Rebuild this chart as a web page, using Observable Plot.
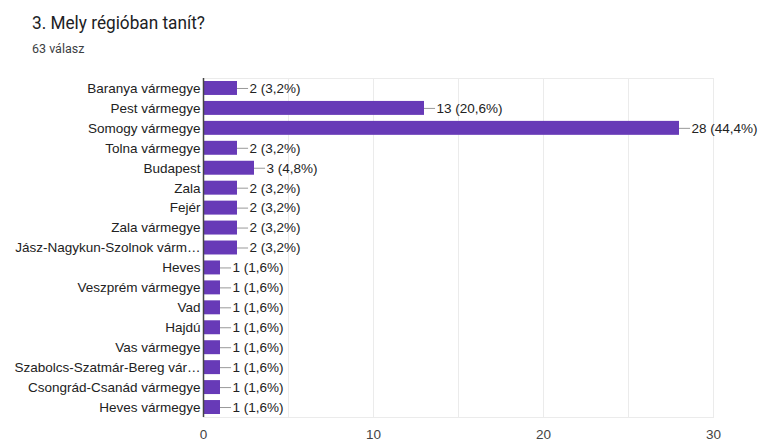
<!DOCTYPE html>
<html>
<head>
<meta charset="utf-8">
<script src="https://cdn.jsdelivr.net/npm/d3@7"></script>
<script src="https://cdn.jsdelivr.net/npm/@observablehq/plot@0.6"></script>
<style>
  html, body { margin: 0; padding: 0; background: #fff; }
  #wrap { position: relative; width: 759px; height: 441px; overflow: hidden; }
  #title { position: absolute; left: 32px; top: 12px; font-family: Roboto, "Noto Sans", sans-serif; font-size: 18.5px; line-height: normal; color: #202124; transform: scaleX(0.93); transform-origin: left top; white-space: nowrap; }
  #sub { position: absolute; left: 32px; top: 40.5px; font-family: Roboto, "Noto Sans", sans-serif; font-size: 12.5px; line-height: normal; color: #3c4043; white-space: nowrap; }
  #chart { position: absolute; left: 0; top: 60px; }
</style>
</head>
<body>
<div id="wrap">
  <div id="title">3. Mely régióban tanít?</div>
  <div id="sub">63 válasz</div>
  <div id="chart"></div>
</div>
<script>
const categories = [
  "Baranya vármegye",
  "Pest vármegye",
  "Somogy vármegye",
  "Tolna vármegye",
  "Budapest",
  "Zala",
  "Fejér",
  "Zala vármegye",
  "Jász-Nagykun-Szolnok várm…",
  "Heves",
  "Veszprém vármegye",
  "Vad",
  "Hajdú",
  "Vas vármegye",
  "Szabolcs-Szatmár-Bereg vár…",
  "Csongrád-Csanád vármegye",
  "Heves vármegye"
];
const counts = [2, 13, 28, 2, 3, 2, 2, 2, 2, 1, 1, 1, 1, 1, 1, 1, 1];
const percents = ["3,2", "20,6", "44,4", "3,2", "4,8", "3,2", "3,2", "3,2", "3,2", "1,6", "1,6", "1,6", "1,6", "1,6", "1,6", "1,6", "1,6"];
const xTicks = [0, 10, 20, 30];
const gridTicks = [5, 10, 15, 20, 25, 30];

const data = categories.map((c, i) => ({
  key: i + "",
  label: c,
  value: counts[i],
  text: `${counts[i]} (${percents[i]}%)`
}));
const labelOf = new Map(data.map(d => [d.key, d.label]));

const leader = 0.65; // leader line length in value units

const plot = Plot.plot({
  width: 759,
  height: 381,
  marginTop: 18,
  marginBottom: 24,
  marginLeft: 203,
  marginRight: 46,
  style: { fontFamily: "Arial, 'Liberation Sans', sans-serif", fontSize: "13.5px", color: "#222", background: "#fff" },
  x: { domain: [0, 30], ticks: xTicks, tickSize: 0, tickPadding: 12, label: null, tickFormat: d => d },
  y: { domain: data.map(d => d.key), paddingInner: 0.3, paddingOuter: 0.15, round: false, label: null, tickSize: 0, tickPadding: 3, tickFormat: k => labelOf.get(k) },
  marks: [
    Plot.frame({ stroke: "#ebebeb" }),
    Plot.ruleX(gridTicks, { stroke: "#ebebeb" }),
    Plot.barX(data, { x: "value", y: "key", fill: "#673ab7" }),
    Plot.ruleY(data, { y: "key", x1: "value", x2: d => d.value + leader, stroke: "#999", strokeWidth: 1 }),
    Plot.text(data, { x: "value", y: "key", text: "text", dx: 12, textAnchor: "start", fill: "#222", fontSize: 13.5 }),
    Plot.ruleX([0], { stroke: "#444", strokeWidth: 1.5 }),
    Plot.axisX({ ticks: xTicks, tickSize: 0, tickPadding: 12, fill: "#444", fontSize: 13.5, label: null }),
    Plot.axisY({ tickSize: 0, tickPadding: 3, tickFormat: k => labelOf.get(k), fill: "#222", fontSize: 13.5, label: null })
  ]
});
document.getElementById("chart").appendChild(plot);
</script>
</body>
</html>
